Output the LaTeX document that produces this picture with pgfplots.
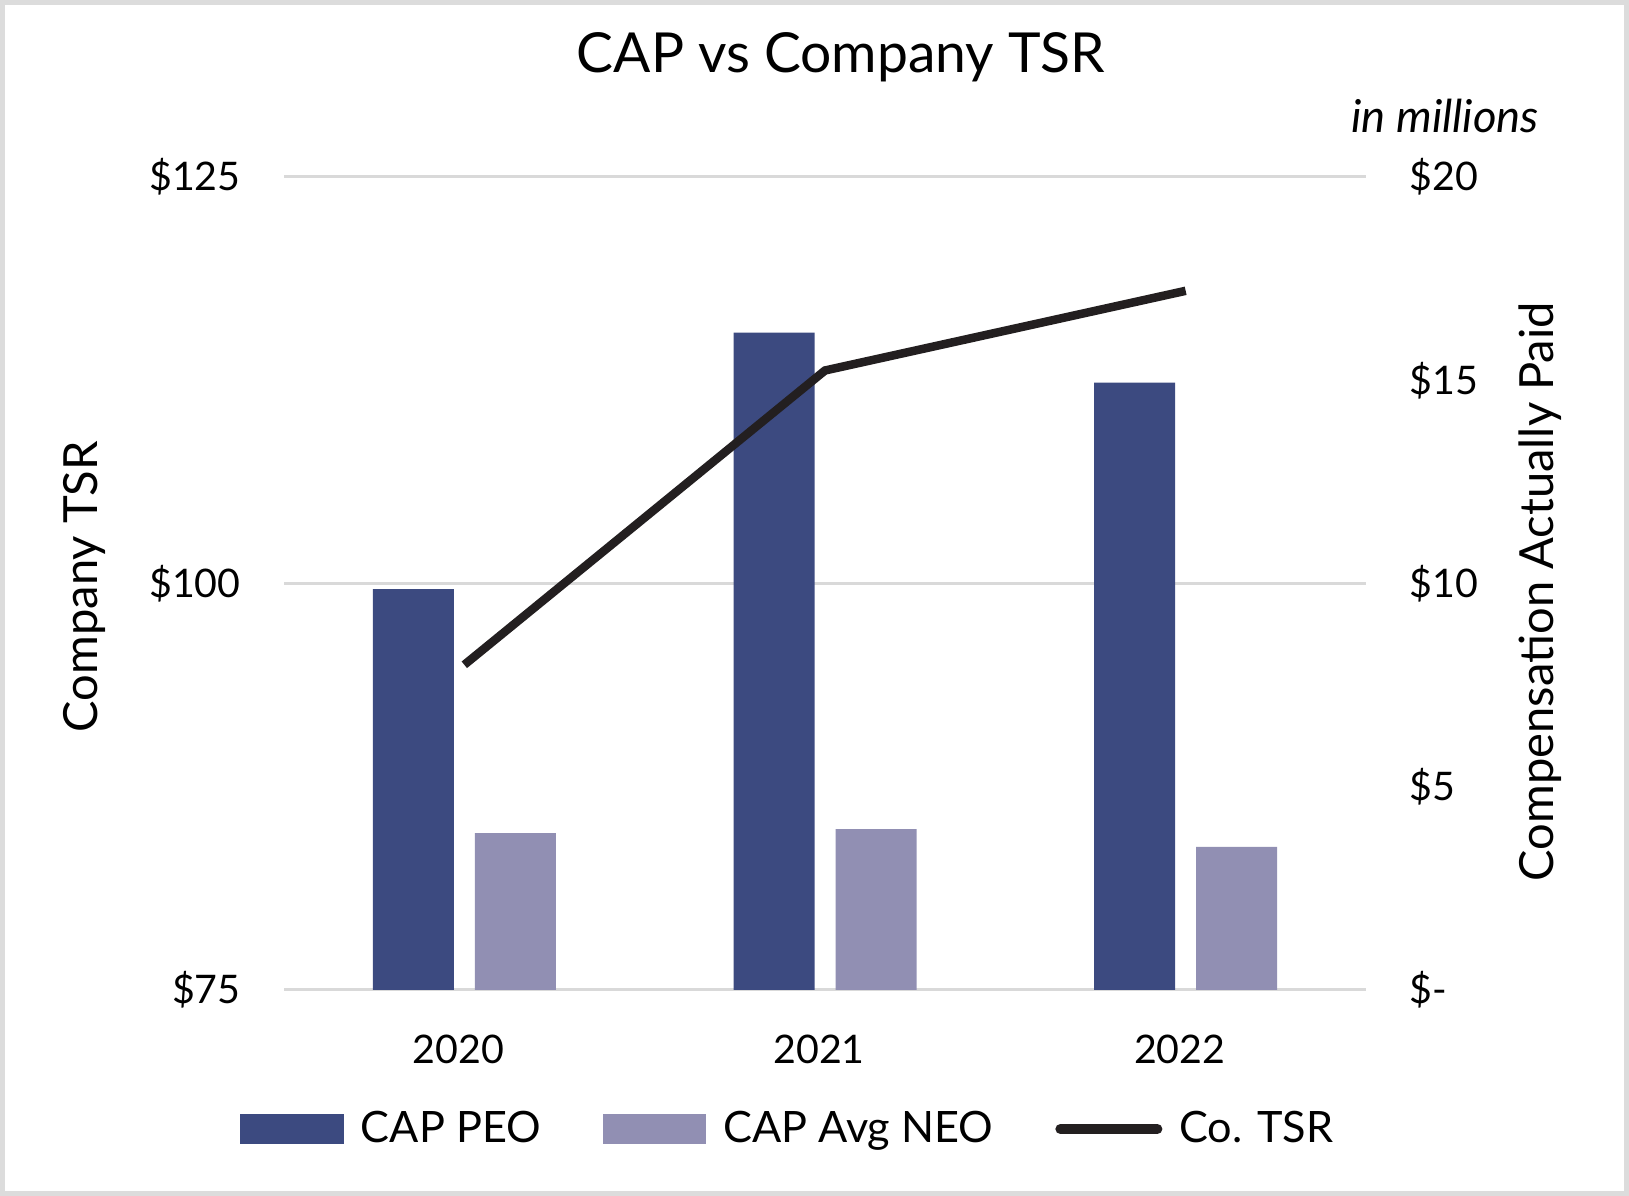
\documentclass[border=0pt]{standalone}
\usepackage{fontspec}
\setmainfont{Lato}
\usepackage{pgfplots}
\pgfplotsset{compat=1.18}
\definecolor{peo}{HTML}{3C4A80}
\definecolor{neo}{HTML}{918FB3}
\definecolor{tsr}{HTML}{231F20}
\definecolor{gridc}{HTML}{D9D9D9}
\definecolor{framec}{HTML}{DCDCDC}
\begin{document}
\begin{tikzpicture}
\pgfplotsset{
  base/.style={
    width=10.82cm, height=8.13cm, scale only axis,
    at={(0,0)}, anchor=south west,
    xmin=-0.5, xmax=2.5,
    xtick={0,1,2}, xticklabels={2020,2021,2022},
    major tick length=0pt,
    axis line style={draw=none},
    tick style={draw=none},
    /pgf/number format/assume math mode=true,
    ticklabel style={font=\fontsize{11.2}{13}\selectfont, text=black},
    label style={font=\fontsize{13.4}{15}\selectfont},
  }
}
% bars (right axis)
\begin{axis}[base,
  axis y line*=right,
  ymin=0, ymax=20,
  ytick={0,5,10,15,20},
  yticklabels={\$-,\$5,\$10,\$15,\$20},
  yticklabel style={xshift=0.31cm},
  xticklabel style={yshift=-0.33cm, xshift=-0.06cm},
  extra y ticks={0,10,20},
  extra y tick labels={},
  extra y tick style={grid=major, major grid style={gridc, line width=0.03cm}},
  ylabel={Compensation Actually Paid},
  ylabel style={at={(axis description cs:1.161,0.49)}, anchor=center, rotate=0},
]
\addplot[ybar, bar width=0.81cm, bar shift=-0.51cm, fill=peo, draw=none]
  coordinates {(0,9.86) (1,16.17) (2,14.94)};
\addplot[ybar, bar width=0.81cm, bar shift=0.51cm, fill=neo, draw=none]
  coordinates {(0,3.86) (1,3.96) (2,3.52)};
\end{axis}
% line (left axis)
\begin{axis}[base,
  axis y line*=left,
  axis x line=none,
  ymin=75, ymax=125,
  ytick={75,100,125},
  yticklabels={\$75,\$100,\$125},
  yticklabel style={xshift=-0.31cm},
  ylabel={Company TSR},
  ylabel style={at={(axis description cs:-0.184,0.496)}, anchor=center},
  legend style={draw=none, fill=none, at={(axis description cs:0.468,-0.171)}, anchor=center,
    font=\fontsize{12.3}{14}\selectfont,
    legend columns=-1,
    /tikz/every odd column/.append style={column sep=0.1cm},
    /tikz/every even column/.append style={column sep=0.55cm},
    legend cell align=left},
]
\addlegendimage{legend image code/.code={\fill[peo] (0cm,-0.14cm) rectangle (1.02cm,0.14cm);}}
\addlegendentry{CAP PEO}
\addlegendimage{legend image code/.code={\fill[neo] (0cm,-0.14cm) rectangle (1.02cm,0.14cm);}}
\addlegendentry{CAP Avg NEO}
\addplot[tsr, line width=0.085cm, mark=none,
  legend image code/.code={\draw[tsr, line width=0.1cm, line cap=round] (0.05cm,0cm) -- (1.02cm,0cm);}]
  coordinates {(0,95.0) (1,113.1) (2,118.0)};
\addlegendentry{Co. TSR}
\end{axis}
\node[font=\fontsize{15.7}{18}\selectfont] at (5.57cm,9.33cm) {CAP vs Company TSR};
\node[anchor=east, font=\fontsize{12.9}{15}\selectfont\itshape] at (12.675cm,8.74cm) {in millions};
\draw[framec, line width=0.05cm] (-2.815cm,-2.035cm) rectangle (13.425cm,9.875cm);
\end{tikzpicture}
\end{document}
